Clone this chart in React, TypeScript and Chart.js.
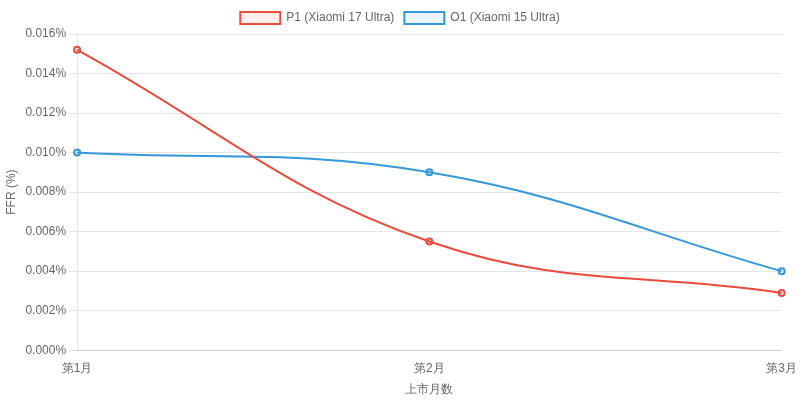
import { useEffect, useRef } from "react"
import { Chart, registerables } from "chart.js"

Chart.register(...registerables)

const months = ["第1月", "第2月", "第3月"]
const p1Values = [0.0152, 0.0055, 0.0029]
const o1Values = [0.01, 0.009, 0.004]

export default function App() {
  const chartRef = useRef<HTMLCanvasElement>(null)
  const chartInstance = useRef<Chart | null>(null)

  useEffect(() => {
    document.body.style.margin = "0"
    if (!chartRef.current) return
    if (chartInstance.current) chartInstance.current.destroy()

    chartInstance.current = new Chart(chartRef.current, {
      type: "line",
      data: {
        labels: months,
        datasets: [
          {
            label: "P1 (Xiaomi 17 Ultra)",
            data: p1Values,
            borderColor: "#e74c3c",
            backgroundColor: "rgba(231, 76, 60, 0.1)",
            borderWidth: 2,
            tension: 0.4,
            pointRadius: 3,
            pointBorderWidth: 2,
          },
          {
            label: "O1 (Xiaomi 15 Ultra)",
            data: o1Values,
            borderColor: "#3498db",
            backgroundColor: "rgba(52, 152, 219, 0.1)",
            borderWidth: 2,
            tension: 0.4,
            pointRadius: 3,
            pointBorderWidth: 2,
          },
        ],
      },
      options: {
        animation: false,
        responsive: true,
        maintainAspectRatio: false,
        layout: { padding: { top: 2 } },
        plugins: {
          legend: { position: "top" },
        },
        scales: {
          x: {
            grid: { display: false },
            title: { display: true, text: "上市月数" },
          },
          y: {
            min: 0,
            max: 0.016,
            ticks: {
              stepSize: 0.002,
              callback: (v) => Number(v).toFixed(3) + "%",
            },
            title: { display: true, text: "FFR (%)" },
          },
        },
      },
    })

    return () => {
      if (chartInstance.current) {
        chartInstance.current.destroy()
        chartInstance.current = null
      }
    }
  }, [])

  return (
    <div style={{ width: 800, height: 401 }}>
      <canvas ref={chartRef} />
    </div>
  )
}
